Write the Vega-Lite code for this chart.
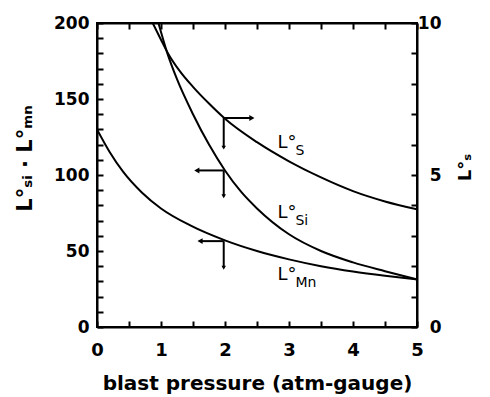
{
  "$schema": "https://vega.github.io/schema/vega-lite/v6.json",
  "width": 320,
  "height": 304,
  "autosize": {"type": "none"},
  "padding": {"left": 97, "top": 23, "right": 73, "bottom": 70},
  "background": "white",
  "config": {
    "view": {"stroke": "black", "strokeWidth": 2},
    "font": "DejaVu Sans",
    "axis": {
      "domainColor": "black", "domainWidth": 2,
      "tickColor": "black", "tickWidth": 2,
      "labelColor": "black", "titleColor": "black",
      "grid": false,
      "labelFont": "DejaVu Sans", "titleFont": "DejaVu Sans",
      "labelFontSize": 17, "labelFontWeight": "bold", "titleFontSize": 20,
      "titleFontWeight": "bold", "labelFlush": false, "labelOverlap": false
    }
  },
  "datasets": {
    "curves": [
      {"series": "Si", "x": 0.96, "y": 200},
      {"series": "Si", "x": 1.1, "y": 180},
      {"series": "Si", "x": 1.25, "y": 163},
      {"series": "Si", "x": 1.5, "y": 140},
      {"series": "Si", "x": 1.75, "y": 120},
      {"series": "Si", "x": 2.0, "y": 103},
      {"series": "Si", "x": 2.25, "y": 89},
      {"series": "Si", "x": 2.5, "y": 78},
      {"series": "Si", "x": 3.0, "y": 61},
      {"series": "Si", "x": 3.5, "y": 50},
      {"series": "Si", "x": 4.0, "y": 42.5},
      {"series": "Si", "x": 4.5, "y": 36.7},
      {"series": "Si", "x": 5, "y": 31.3},
      {"series": "Mn", "x": 0, "y": 130},
      {"series": "Mn", "x": 0.2, "y": 115},
      {"series": "Mn", "x": 0.41, "y": 102},
      {"series": "Mn", "x": 0.7, "y": 88.5},
      {"series": "Mn", "x": 1, "y": 78},
      {"series": "Mn", "x": 1.45, "y": 67},
      {"series": "Mn", "x": 2, "y": 57},
      {"series": "Mn", "x": 2.5, "y": 50},
      {"series": "Mn", "x": 3, "y": 44.5},
      {"series": "Mn", "x": 3.5, "y": 40},
      {"series": "Mn", "x": 4, "y": 36.5},
      {"series": "Mn", "x": 4.5, "y": 33.7},
      {"series": "Mn", "x": 5, "y": 31.3}
    ],
    "ls": [
      {"x": 0.87, "y": 10},
      {"x": 1.0, "y": 9.45},
      {"x": 1.11, "y": 9.0},
      {"x": 1.3, "y": 8.4},
      {"x": 1.5, "y": 7.9},
      {"x": 1.75, "y": 7.35},
      {"x": 2.0, "y": 6.85},
      {"x": 2.5, "y": 6.08},
      {"x": 3.0, "y": 5.45},
      {"x": 3.5, "y": 4.92},
      {"x": 4.0, "y": 4.47},
      {"x": 4.5, "y": 4.13},
      {"x": 5, "y": 3.87}
    ],
    "arrows": [
      {"s": "S", "xv": 1.98, "xh": 2.42, "y": 137.5, "yb": 118, "dir": "right"},
      {"s": "Si", "xv": 1.98, "xh": 1.56, "y": 103, "yb": 86, "dir": "left"},
      {"s": "Mn", "xv": 1.98, "xh": 1.61, "y": 56.5, "yb": 39, "dir": "left"}
    ],
    "labels": [
      {"main": "L°", "sub": "S", "x": 2.82, "y": 118},
      {"main": "L°", "sub": "Si", "x": 2.82, "y": 71.4},
      {"main": "L°", "sub": "Mn", "x": 2.82, "y": 30.6}
    ]
  },
  "layer": [
    {
      "data": {"name": "curves"},
      "mark": {"type": "line", "color": "black", "strokeWidth": 2, "interpolate": "monotone", "clip": true},
      "encoding": {
        "x": {"field": "x", "type": "quantitative", "scale": {"domain": [0, 5], "nice": false},
          "axis": {"orient": "bottom", "values": [0, 0.5, 1, 1.5, 2, 2.5, 3, 3.5, 4, 4.5, 5],
            "labelExpr": "datum.value % 1 === 0 ? format(datum.value, 'd') : ''",
            "labelFontSize": 18,
            "tickSize": -6, "labelPadding": 20, "title": "blast pressure (atm-gauge)", "titlePadding": 14}},
        "y": {"field": "y", "type": "quantitative", "scale": {"domain": [0, 200], "nice": false},
          "axis": {"orient": "left", "values": [0,10,20,30,40,50,60,70,80,90,100,110,120,130,140,150,160,170,180,190,200],
            "labelExpr": "datum.value % 50 === 0 ? datum.label : ''",
            "tickSize": -6, "labelPadding": 14, "title": "L°ₛᵢ · L°ₘₙ", "titleX": -62, "titleY": 135, "titleAlign": "center", "titleFontSize": 21}},
        "detail": {"field": "series"}
      }
    },
    {
      "data": {"name": "arrows"},
      "mark": {"type": "rule", "color": "black", "strokeWidth": 2},
      "encoding": {
        "x": {"field": "xv", "type": "quantitative", "axis": null},
        "x2": {"field": "xh"},
        "y": {"field": "y", "type": "quantitative", "scale": {"domain": [0, 200], "nice": false}, "axis": null}
      }
    },
    {
      "data": {"name": "arrows"},
      "mark": {"type": "rule", "color": "black", "strokeWidth": 2},
      "encoding": {
        "x": {"field": "xv", "type": "quantitative", "axis": null},
        "y": {"field": "y", "type": "quantitative", "scale": {"domain": [0, 200], "nice": false}, "axis": null},
        "y2": {"field": "yb"}
      }
    },
    {
      "data": {"name": "arrows"},
      "mark": {"type": "point", "filled": true, "color": "black", "size": 35, "opacity": 1},
      "encoding": {
        "x": {"field": "xh", "type": "quantitative", "axis": null},
        "y": {"field": "y", "type": "quantitative", "scale": {"domain": [0, 200], "nice": false}, "axis": null},
        "shape": {"field": "dir", "type": "nominal", "scale": {"domain": ["left", "right"], "range": ["triangle-left", "triangle-right"]}, "legend": null}
      }
    },
    {
      "data": {"name": "arrows"},
      "mark": {"type": "point", "filled": true, "color": "black", "size": 20, "opacity": 1, "shape": "triangle-down"},
      "encoding": {
        "x": {"field": "xv", "type": "quantitative", "axis": null},
        "y": {"field": "yb", "type": "quantitative", "scale": {"domain": [0, 200], "nice": false}, "axis": null}
      }
    },
    {
      "data": {"name": "labels"},
      "mark": {"type": "text", "align": "left", "baseline": "alphabetic", "fontSize": 18, "color": "black", "font": "DejaVu Sans"},
      "encoding": {
        "x": {"field": "x", "type": "quantitative", "axis": null},
        "y": {"field": "y", "type": "quantitative", "scale": {"domain": [0, 200], "nice": false}, "axis": null},
        "text": {"field": "main"}
      }
    },
    {
      "data": {"name": "labels"},
      "mark": {"type": "text", "align": "left", "baseline": "alphabetic", "fontSize": 14, "dx": 18, "dy": 7, "color": "black", "font": "DejaVu Sans"},
      "encoding": {
        "x": {"field": "x", "type": "quantitative", "axis": null},
        "y": {"field": "y", "type": "quantitative", "scale": {"domain": [0, 200], "nice": false}, "axis": null},
        "text": {"field": "sub"}
      }
    },
    {
      "data": {"name": "ls"},
      "mark": {"type": "line", "color": "black", "strokeWidth": 2, "interpolate": "monotone", "clip": true},
      "encoding": {
        "x": {"field": "x", "type": "quantitative",
          "axis": {"orient": "top", "values": [0, 0.5, 1, 1.5, 2, 2.5, 3, 3.5, 4, 4.5, 5], "labels": false, "tickSize": -6, "title": null}},
        "y": {"field": "y", "type": "quantitative", "scale": {"domain": [0, 10], "nice": false},
          "axis": {"orient": "right", "values": [0,1,2,3,4,5,6,7,8,9,10],
            "labelExpr": "datum.value % 5 === 0 ? datum.label : ''",
            "tickSize": -6, "labelAlign": "right", "labelPadding": 30, "title": "L°ₛ", "titleAngle": 270, "titleX": 57, "titleY": 144, "titleAlign": "center", "titleFontSize": 18}}
      }
    }
  ],
  "resolve": {"scale": {"y": "independent"}, "axis": {"x": "independent"}}
}
